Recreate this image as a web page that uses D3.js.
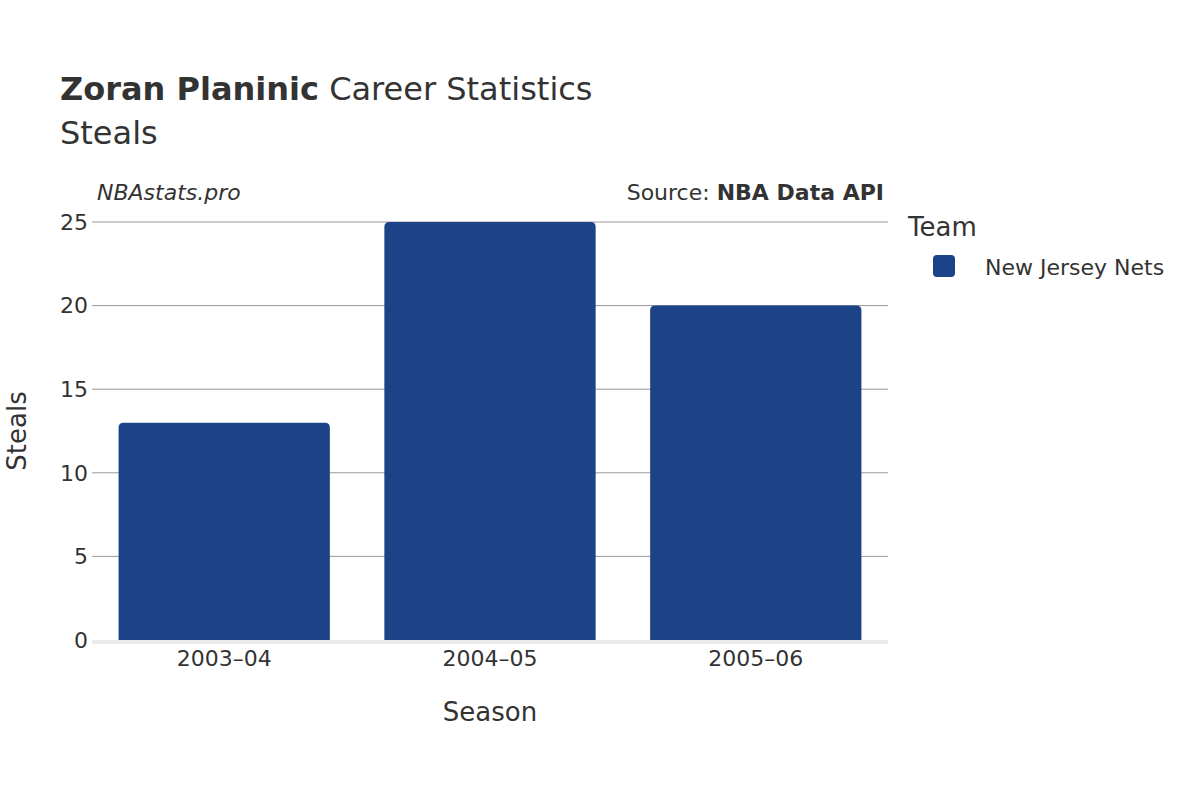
<!DOCTYPE html>
<html>
<head>
<meta charset="utf-8">
<script src="https://cdn.jsdelivr.net/npm/d3@7"></script>
<style>
  body { margin: 0; background: #fff; }
  text { font-family: "DejaVu Sans", sans-serif; fill: #333; }
</style>
</head>
<body>
<svg id="chart" width="1200" height="800"></svg>
<script>
const seasons = ['2003–04', '2004–05', '2005–06'];
const steals = [13, 25, 20];
const yTicks = [0, 5, 10, 15, 20, 25];
const team = 'New Jersey Nets';
const teamColor = '#1c4388';

const svg = d3.select('#chart');
const m = { left: 92, right: 888, top: 222, bottom: 640 };

const x = d3.scaleBand().domain(seasons).range([m.left, m.right]).paddingInner(0.205).paddingOuter(0.1);
const y = d3.scaleLinear().domain([0, 25]).range([m.bottom, m.top]);

// gridlines
svg.append('g').selectAll('line').data(yTicks.filter(d => d > 0)).join('line')
  .attr('x1', m.left).attr('x2', m.right)
  .attr('y1', d => y(d)).attr('y2', d => y(d))
  .attr('stroke', '#999').attr('stroke-width', 1);

// bars with rounded top corners
const r = 5;
svg.append('g').selectAll('path').data(seasons).join('path')
  .attr('fill', teamColor)
  .attr('d', (s, i) => {
    const x0 = x(s), w = x.bandwidth(), yt = y(steals[i]), yb = y(0);
    return `M${x0},${yb}V${yt + r}Q${x0},${yt} ${x0 + r},${yt}H${x0 + w - r}Q${x0 + w},${yt} ${x0 + w},${yt + r}V${yb}Z`;
  });

// baseline
svg.append('line').attr('x1', m.left).attr('x2', m.right)
  .attr('y1', y(0) + 2).attr('y2', y(0) + 2)
  .attr('stroke', '#ebebeb').attr('stroke-width', 4);

// y ticks
svg.append('g').selectAll('text').data(yTicks).join('text')
  .attr('x', m.left - 4).attr('y', d => y(d)).attr('dy', '0.35em')
  .attr('text-anchor', 'end').attr('font-size', 22).text(d => d);

// x ticks
svg.append('g').selectAll('text').data(seasons).join('text')
  .attr('x', s => x(s) + x.bandwidth() / 2).attr('y', 666)
  .attr('text-anchor', 'middle').attr('font-size', 22).text(s => s);

// axis titles
svg.append('text').attr('x', (m.left + m.right) / 2).attr('y', 721)
  .attr('text-anchor', 'middle').attr('font-size', 26).text('Season');
svg.append('text').attr('transform', `translate(26,${(m.top + m.bottom) / 2}) rotate(-90)`)
  .attr('text-anchor', 'middle').attr('font-size', 26).text('Steals');

// title
const title = svg.append('text').attr('x', 60).attr('y', 100).attr('font-size', 32);
title.append('tspan').attr('font-weight', 'bold').text('Zoran Planinic');
title.append('tspan').text(' Career Statistics');
svg.append('text').attr('x', 60).attr('y', 144).attr('font-size', 32).text('Steals');

// credits
svg.append('text').attr('x', 97).attr('y', 200).attr('font-size', 22)
  .attr('font-style', 'italic').text('NBAstats.pro');
const src = svg.append('text').attr('x', 884).attr('y', 200).attr('font-size', 22).attr('text-anchor', 'end');
src.append('tspan').text('Source: ');
src.append('tspan').attr('font-weight', 'bold').text('NBA Data API');

// legend
svg.append('text').attr('x', 908).attr('y', 236).attr('font-size', 26).text('Team');
svg.append('rect').attr('x', 933).attr('y', 255).attr('width', 22).attr('height', 22)
  .attr('rx', 4).attr('fill', teamColor);
svg.append('text').attr('x', 985).attr('y', 267).attr('dy', '0.35em').attr('font-size', 22).text(team);
</script>
</body>
</html>
